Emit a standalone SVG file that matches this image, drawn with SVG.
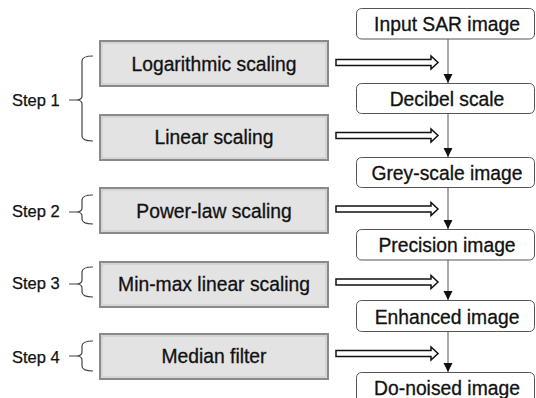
<svg xmlns="http://www.w3.org/2000/svg" width="536" height="398" viewBox="0 0 536 398">
<style>
  .lbl{font-family:"Liberation Sans",Arial,sans-serif;font-size:19.3px;fill:#111;stroke:#111;stroke-width:0.3;text-anchor:middle}
  .step{font-family:"Liberation Sans",Arial,sans-serif;font-size:16.5px;fill:#111;stroke:#111;stroke-width:0.25}
  .op{fill:#e3e3e3;stroke:#8a8a8a;stroke-width:2}
  .opin{fill:none;stroke:#c6c6c6;stroke-width:1}
  .res{fill:#fff;stroke:#555;stroke-width:1}
  .brace{fill:none;stroke:#444;stroke-width:1.2}
  .flow{stroke:#555;stroke-width:1;fill:none}
  .dbl{fill:#fff;stroke:#111;stroke-width:1.5;stroke-linejoin:miter}
</style>
<defs>
  <marker id="ah" markerWidth="10" markerHeight="10" refX="9" refY="5" orient="auto" markerUnits="userSpaceOnUse">
    <path d="M0,0.5 L9,5 L0,9.5 Z" fill="#111"/>
  </marker>
</defs>
<rect width="536" height="398" fill="#fff"/>

<g id="step1">
  <text class="step" x="12" y="106">Step 1</text>
  <path class="brace" d="M93,56 Q82,56 82,61 L82,96 Q82,100 76,100 L69,100 M76,100 Q82,100 82,104 L82,136 Q82,141 93,141"/>
</g>
<g id="step2">
  <text class="step" x="12" y="217">Step 2</text>
  <path class="brace" d="M93,195 Q82,195 82,200 L82,208 Q82,212 76,212 L69,212 M76,212 Q82,212 82,216 L82,219 Q82,224 93,224"/>
</g>
<g id="step3">
  <text class="step" x="12" y="289">Step 3</text>
  <path class="brace" d="M93,267 Q82,267 82,272 L82,280 Q82,284 76,284 L69,284 M76,284 Q82,284 82,288 L82,292 Q82,297 93,297"/>
</g>
<g id="step4">
  <text class="step" x="12" y="363">Step 4</text>
  <path class="brace" d="M93,341 Q82,341 82,346 L82,352 Q82,356 76,356 L69,356 M76,356 Q82,356 82,360 L82,366 Q82,371 93,371"/>
</g>

<g id="op-log">
  <rect class="op" x="100" y="41" width="228" height="45"/>
  <rect class="opin" x="102" y="43" width="224" height="41"/>
  <text class="lbl" x="214" y="70.5">Logarithmic scaling</text>
</g>
<g id="op-lin">
  <rect class="op" x="100" y="115" width="228" height="45"/>
  <rect class="opin" x="102" y="117" width="224" height="41"/>
  <text class="lbl" x="214" y="144">Linear scaling</text>
</g>
<g id="op-pow">
  <rect class="op" x="100" y="188" width="228" height="45"/>
  <rect class="opin" x="102" y="190" width="224" height="41"/>
  <text class="lbl" x="214" y="217.5">Power-law scaling</text>
</g>
<g id="op-minmax">
  <rect class="op" x="100" y="262" width="228" height="45"/>
  <rect class="opin" x="102" y="264" width="224" height="41"/>
  <text class="lbl" x="214" y="291">Min-max linear scaling</text>
</g>
<g id="op-median">
  <rect class="op" x="100" y="334" width="228" height="45"/>
  <rect class="opin" x="102" y="336" width="224" height="41"/>
  <text class="lbl" x="214" y="363">Median filter</text>
</g>

<g id="r-input">
  <rect class="res" x="356.5" y="8.5" width="178" height="30.5" rx="5"/>
  <text class="lbl" x="447" y="31">Input SAR image</text>
</g>
<g id="r-decibel">
  <rect class="res" x="356.5" y="83.5" width="178" height="30" rx="5"/>
  <text class="lbl" x="447" y="105.5">Decibel scale</text>
</g>
<g id="r-grey">
  <rect class="res" x="356.5" y="157.5" width="178" height="30" rx="5"/>
  <text class="lbl" x="447" y="179.5">Grey-scale image</text>
</g>
<g id="r-precision">
  <rect class="res" x="356.5" y="229.5" width="178" height="30.5" rx="5"/>
  <text class="lbl" x="447" y="252">Precision image</text>
</g>
<g id="r-enhanced">
  <rect class="res" x="356.5" y="300.5" width="178" height="31" rx="5"/>
  <text class="lbl" x="447" y="323.5">Enhanced image</text>
</g>
<g id="r-denoised">
  <rect class="res" x="356.5" y="372.5" width="178" height="40" rx="5"/>
  <text class="lbl" x="447" y="395">Do-noised image</text>
</g>

<g id="connectors">
  <line class="flow" x1="448" y1="39" x2="448" y2="83" marker-end="url(#ah)"/>
  <line class="flow" x1="448" y1="113.5" x2="448" y2="157" marker-end="url(#ah)"/>
  <line class="flow" x1="448" y1="187.5" x2="448" y2="229" marker-end="url(#ah)"/>
  <line class="flow" x1="448" y1="260" x2="448" y2="300" marker-end="url(#ah)"/>
  <line class="flow" x1="448" y1="331.5" x2="448" y2="372" marker-end="url(#ah)"/>
  <path class="dbl" d="M336,59.5 L431,59.5 L431,56 L438,62.5 L431,69 L431,65.5 L336,65.5 Z"/>
  <path class="dbl" d="M336,132.5 L431,132.5 L431,129 L438,135.5 L431,142 L431,138.5 L336,138.5 Z"/>
  <path class="dbl" d="M336,206 L431,206 L431,202.5 L438,209 L431,215.5 L431,212 L336,212 Z"/>
  <path class="dbl" d="M336,279 L431,279 L431,275.5 L438,282 L431,288.5 L431,285 L336,285 Z"/>
  <path class="dbl" d="M336,350.5 L431,350.5 L431,347 L438,353.5 L431,360 L431,356.5 L336,356.5 Z"/>
</g>
</svg>
